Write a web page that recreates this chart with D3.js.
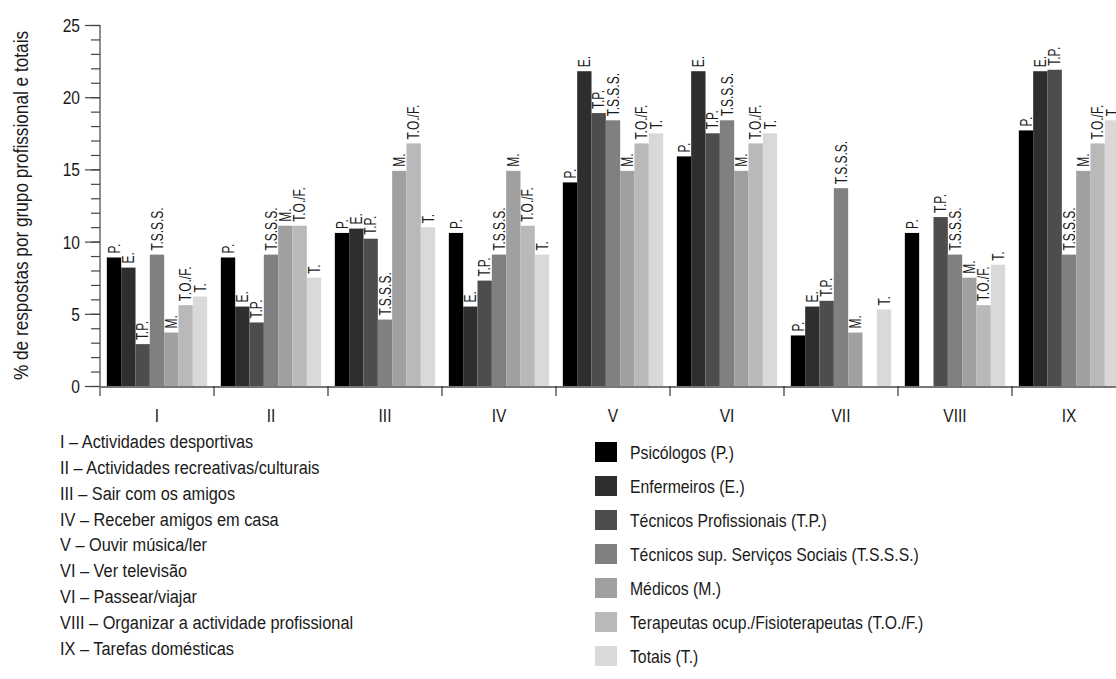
<!DOCTYPE html>
<html>
<head>
<meta charset="utf-8">
<script src="https://cdn.jsdelivr.net/npm/d3@7"></script>
<style>
  html, body { margin: 0; padding: 0; background: #fff; }
  svg { display: block; }
  text { font-family: "Liberation Sans", Arial, sans-serif; fill: #1a1a1a; }
</style>
</head>
<body>
<svg id="chart" width="1116" height="679"></svg>
<script>
// ---- data ----
const categories = ["I", "II", "III", "IV", "V", "VI", "VII", "VIII", "IX"];
const seriesShort = ["P.", "E.", "T.P.", "T.S.S.S.", "M.", "T.O./F.", "T."];
const seriesNames = [
  "Psicólogos (P.)",
  "Enfermeiros (E.)",
  "Técnicos Profissionais (T.P.)",
  "Técnicos sup. Serviços Sociais (T.S.S.S.)",
  "Médicos (M.)",
  "Terapeutas ocup./Fisioterapeutas (T.O./F.)",
  "Totais (T.)"
];
const seriesColors = ["#000000", "#2e2e2e", "#4d4d4d", "#808080", "#a0a0a0", "#b9b9b9", "#d9d9d9"];
const valP    = [8.9, 8.9, 10.6, 10.6, 14.1, 15.9, 3.5, 10.6, 17.7];
const valE    = [8.2, 5.5, 10.9, 5.5, 21.8, 21.8, 5.5, null, 21.8];
const valTP   = [2.9, 4.4, 10.2, 7.3, 18.9, 17.5, 5.9, 11.7, 21.9];
const valTSSS = [9.1, 9.1, 4.6, 9.1, 18.4, 18.4, 13.7, 9.1, 9.1];
const valM    = [3.7, 11.1, 14.9, 14.9, 14.9, 14.9, 3.7, 7.5, 14.9];
const valTOF  = [5.6, 11.1, 16.8, 11.1, 16.8, 16.8, null, 5.6, 16.8];
const valT    = [6.2, 7.5, 11.0, 9.1, 17.5, 17.5, 5.3, 8.4, 18.4];
const seriesValues = [valP, valE, valTP, valTSSS, valM, valTOF, valT];
const categoryNames = [
  "I – Actividades desportivas",
  "II – Actividades recreativas/culturais",
  "III – Sair com os amigos",
  "IV – Receber amigos em casa",
  "V – Ouvir música/ler",
  "VI – Ver televisão",
  "VI – Passear/viajar",
  "VIII – Organizar a actividade profissional",
  "IX – Tarefas domésticas"
];
const majorTicks = [0, 5, 10, 15, 20, 25];
const yTitle = "% de respostas por grupo profissional e totais";

// ---- layout ----
const NARROW = 0.82;
const svg = d3.select("#chart");
const x0 = d3.scaleBand().domain(categories).range([100, 1126]).paddingInner(0.12).paddingOuter(0.06);
const x1 = d3.scaleBand().domain(seriesShort).range([0, x0.bandwidth()]);
const y = d3.scaleLinear().domain([0, 25]).range([386, 25]);
const color = d3.scaleOrdinal().domain(seriesShort).range(seriesColors);

const rows = [];
categories.forEach((c, ci) => {
  seriesShort.forEach((s, si) => {
    const v = seriesValues[si][ci];
    if (v != null && v > 0) rows.push({ cat: c, ser: s, v });
  });
});

// bars
svg.append("g").selectAll("rect").data(rows).join("rect")
  .attr("x", d => x0(d.cat) + x1(d.ser))
  .attr("y", d => y(d.v))
  .attr("width", x1.bandwidth())
  .attr("height", d => y(0) - y(d.v))
  .attr("fill", d => color(d.ser));

// bar labels (rotated)
const lblSize = 16;
svg.append("g").selectAll("text").data(rows).join("text")
  .attr("transform", d => `translate(${x0(d.cat) + x1(d.ser) + x1.bandwidth() / 2 + lblSize * 0.36},${y(d.v) - 4}) rotate(-90) scale(0.75,1)`)
  .attr("font-size", lblSize)
  .attr("text-anchor", "start")
  .text(d => d.ser);

// y axis minor ticks
const yMinor = svg.append("g").attr("transform", "translate(100,0)")
  .call(d3.axisLeft(y).tickValues(d3.range(0, 26)).tickSize(9).tickFormat(""));
yMinor.select(".domain").remove();
yMinor.selectAll("line").attr("stroke", "#444").attr("stroke-width", 1.2);

// y axis major ticks
const yMajor = svg.append("g").attr("transform", "translate(100,0)")
  .call(d3.axisLeft(y).tickValues(majorTicks).tickSize(15).tickFormat(""));
yMajor.select(".domain").remove();
yMajor.selectAll("line").attr("stroke", "#444").attr("stroke-width", 1.2);

// y tick labels (condensed)
svg.append("g").selectAll("text").data(majorTicks).join("text")
  .attr("transform", d => `translate(80,${y(d) + 7}) scale(${NARROW},1)`)
  .attr("text-anchor", "end")
  .attr("font-size", 19)
  .text(d3.format("d"));

// y axis line
svg.append("line").attr("x1", 100).attr("x2", 100).attr("y1", y(25)).attr("y2", y(0) + 10)
  .attr("stroke", "#444").attr("stroke-width", 1.2);

// x baseline
svg.append("line").attr("x1", 100).attr("x2", 1116).attr("y1", y(0) + 1).attr("y2", y(0) + 1)
  .attr("stroke", "#777").attr("stroke-width", 2);

// category boundary ticks
const bounds = d3.range(1, categories.length + 1).map(i => x0.range()[0] + i * x0.step());
svg.append("g").selectAll("line").data(bounds).join("line")
  .attr("x1", d => d).attr("x2", d => d)
  .attr("y1", y(0)).attr("y2", y(0) + 10)
  .attr("stroke", "#333").attr("stroke-width", 1.2);

// category labels
svg.append("g").selectAll("text").data(categories).join("text")
  .attr("transform", d => `translate(${x0(d) + x0.bandwidth() / 2},${y(0) + 36}) scale(${NARROW},1)`)
  .attr("text-anchor", "middle")
  .attr("font-size", 19)
  .text(d => d);

// y title
svg.append("text")
  .attr("transform", `translate(28,${(y(25) + y(0)) / 2}) rotate(-90) scale(${NARROW},1)`)
  .attr("text-anchor", "middle")
  .attr("font-size", 21)
  .text(yTitle);

// category legend (left)
svg.append("g").selectAll("text").data(categoryNames).join("text")
  .attr("transform", (d, i) => `translate(60,${448 + i * 25.85}) scale(0.86,1)`)
  .attr("font-size", 19)
  .text(d => d);

// series legend (right)
const leg = svg.append("g").selectAll("g").data(seriesNames).join("g")
  .attr("transform", (d, i) => `translate(595,${452 + i * 34})`);
leg.append("rect").attr("x", 0).attr("y", -10).attr("width", 22).attr("height", 20)
  .attr("fill", (d, i) => seriesColors[i]);
leg.append("text").attr("transform", `translate(35,7) scale(0.83,1)`)
  .attr("font-size", 19).text(d => d);
</script>
</body>
</html>
